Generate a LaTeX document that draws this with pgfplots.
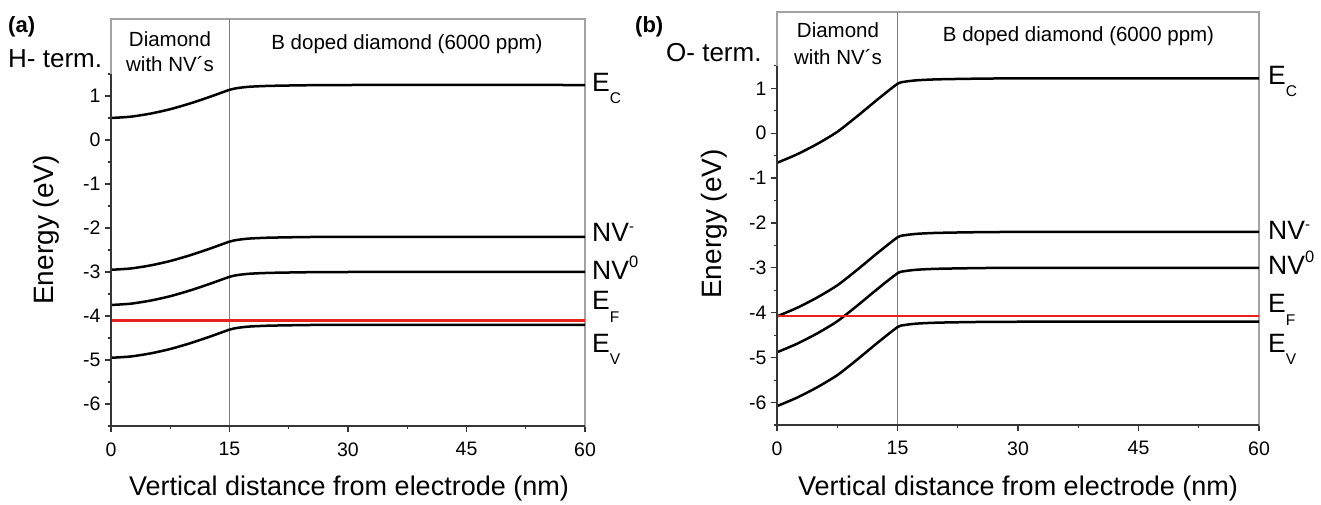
\documentclass[border=0pt]{standalone}
\usepackage{pgfplots}
\pgfplotsset{compat=1.18}
\usepackage{pgfplotstable}
\usepackage{fontspec}
\setmainfont{Liberation Sans}
\definecolor{framec}{HTML}{A3A3A3}
\definecolor{sepc}{HTML}{808080}
\definecolor{axdark}{HTML}{353535}
\definecolor{efred}{HTML}{E8231E}
\newcommand\fs[1]{\fontsize{#1}{#1}\selectfont}
\newcommand\Esub[2]{E\raisebox{#2}{\fs{15.5}#1}}

\pgfplotstableread{
x    ec     nvm     nvz     ev
0    0.50   -2.95   -3.75   -4.95
2.5  0.53   -2.92   -3.72   -4.92
5    0.60   -2.85   -3.65   -4.85
7.5  0.70   -2.75   -3.55   -4.75
10   0.83   -2.62   -3.42   -4.62
12.5 0.98   -2.47   -3.27   -4.47
15   1.14   -2.31   -3.11   -4.31
16   1.18   -2.27   -3.07   -4.27
17.5 1.21   -2.24   -3.04   -4.24
20   1.23   -2.22   -3.02   -4.22
25   1.245  -2.205  -3.005  -4.205
30   1.25   -2.20   -3.00   -4.20
60   1.25   -2.20   -3.00   -4.20
}\tabA

\pgfplotstableread{
x    ec     nvm     nvz     ev
0    -0.66  -4.08   -4.88   -6.08
2.5  -0.47  -3.89   -4.69   -5.89
5    -0.24  -3.66   -4.46   -5.66
7.5  0.03   -3.39   -4.19   -5.39
10   0.38   -3.04   -3.84   -5.04
12.5 0.75   -2.67   -3.47   -4.67
15   1.10   -2.32   -3.12   -4.32
16   1.15   -2.27   -3.07   -4.27
17.5 1.18   -2.24   -3.04   -4.24
20   1.20   -2.22   -3.02   -4.22
25   1.215  -2.205  -3.005  -4.205
30   1.22   -2.20   -3.00   -4.20
60   1.22   -2.20   -3.00   -4.20
}\tabB

\pgfplotsset{
  myax/.style={
    scale only axis, xmin=0, xmax=60, ymin=-6.5, clip=false,
    axis line style={draw=framec, line width=1.3pt},
    xtick={0,15,30,45,60}, xticklabels={0,15,30,45,60},
    minor xtick={7.5,22.5,37.5,52.5},
    ytick={-6,-5,-4,-3,-2,-1,0,1},
    yticklabels={-6,-5,-4,-3,-2,-1,0,1},
    minor ytick={-6.5,-5.5,-4.5,-3.5,-2.5,-1.5,-0.5,0.5,1.5},
    xtick pos=bottom, ytick pos=left, tick align=outside,
    major tick length=6pt, minor tick length=3.5pt,
    tick style={axdark, line width=1.2pt},
    ticklabel style={font=\fs{19.5}, text=black},
    xticklabel style={yshift=-7pt},
    yticklabel style={xshift=-1pt},
  },
  curve/.style={black, line width=2.5pt, smooth, tension=0.4},
}

\begin{document}
\begin{tikzpicture}[x=1pt,y=1pt]
\useasboundingbox (0,0) rectangle (1321,505);

% ---------- panel (a)
\begin{axis}[myax, at={(111pt,79pt)}, anchor=south west,
  width=474pt, height=407pt, ymax=2.75]
  \draw[sepc, line width=1.3pt] (axis cs:15,-6.5) -- (axis cs:15,2.75);
  \addplot[curve] table[x=x,y=ec]{\tabA};
  \addplot[curve] table[x=x,y=nvm]{\tabA};
  \addplot[curve] table[x=x,y=nvz]{\tabA};
  \addplot[curve] table[x=x,y=ev]{\tabA};
  \addplot[efred, line width=2.6pt] coordinates {(0,-4.1) (60,-4.1)};
  \draw[axdark, line width=2pt] (axis cs:0,1.5) -- (axis cs:0,-6.5) -- (axis cs:60,-6.5);
\end{axis}

% ---------- panel (b)
\begin{axis}[myax, at={(777pt,80pt)}, anchor=south west,
  width=482pt, height=413pt, ymax=2.7]
  \draw[sepc, line width=1.3pt] (axis cs:15,-6.5) -- (axis cs:15,2.7);
  \addplot[curve] table[x=x,y=ec]{\tabB};
  \addplot[curve] table[x=x,y=nvm]{\tabB};
  \addplot[curve] table[x=x,y=nvz]{\tabB};
  \addplot[curve] table[x=x,y=ev]{\tabB};
  \addplot[efred, line width=2.6pt] coordinates {(0,-4.07) (60,-4.07)};
  \draw[axdark, line width=2pt] (axis cs:0,1.5) -- (axis cs:0,-6.5) -- (axis cs:60,-6.5);
\end{axis}

% ---------- texts panel (a)
\node[anchor=base west, inner sep=0, font=\fs{22}\bfseries] at (8,472) {(a)};
\node[anchor=base west, inner sep=0, font=\fs{26}] at (8,437) {H- term.};
\node[anchor=base, inner sep=0, font=\fs{20.5}] at (170,458) {Diamond};
\node[anchor=base, inner sep=0, font=\fs{20.5}] at (170,433) {with NV´s};
\node[anchor=base, inner sep=0, font=\fs{20.5}] at (407,455) {B doped diamond (6000 ppm)};
\node[anchor=base, inner sep=0, font=\fs{28}, rotate=90] at (53,275) {Energy (eV)};
\node[anchor=base, inner sep=0, font=\fs{27}] at (349,9) {Vertical distance from electrode (nm)};
\begin{scope}[every node/.style={anchor=base west, inner sep=0, font=\fs{26.5}}]
\node at (592,413) {\Esub{C}{-12pt}};
\node at (592,263) {NV\raisebox{10pt}{\fs{15}-}};
\node at (592,225) {NV\raisebox{12pt}{\fs{16.5}0}};
\node at (592,195) {\Esub{F}{-13pt}};
\node at (592,152) {\Esub{V}{-12pt}};
\end{scope}

% ---------- texts panel (b)
\node[anchor=base west, inner sep=0, font=\fs{22}\bfseries] at (635,472) {(b)};
\node[anchor=base west, inner sep=0, font=\fs{26}] at (666,443) {O- term.};
\node[anchor=base, inner sep=0, font=\fs{20.5}] at (838,467) {Diamond};
\node[anchor=base, inner sep=0, font=\fs{20.5}] at (838,440) {with NV´s};
\node[anchor=base, inner sep=0, font=\fs{20.5}] at (1078.5,463) {B doped diamond (6000 ppm)};
\node[anchor=base, inner sep=0, font=\fs{28}, rotate=90] at (721,281) {Energy (eV)};
\node[anchor=base, inner sep=0, font=\fs{27}] at (1018,9) {Vertical distance from electrode (nm)};
\begin{scope}[every node/.style={anchor=base west, inner sep=0, font=\fs{26.5}}]
\node at (1268,420) {\Esub{C}{-12pt}};
\node at (1268,265) {NV\raisebox{10pt}{\fs{15}-}};
\node at (1268,230) {NV\raisebox{12pt}{\fs{16.5}0}};
\node at (1268,192) {\Esub{F}{-13pt}};
\node at (1268,152) {\Esub{V}{-12pt}};
\end{scope}
\end{tikzpicture}
\end{document}
